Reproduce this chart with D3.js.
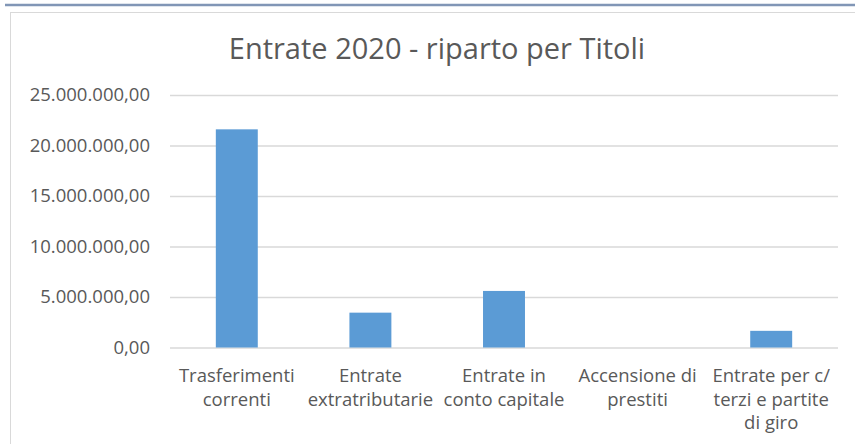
<!DOCTYPE html>
<meta charset="utf-8">
<script src="https://d3js.org/d3.v7.min.js"></script>
<style>
	body{
		margin:0;
		background:#fff;
		font-family:'Open Sans', sans-serif;
	}
</style>
<div id="chart"></div>
<script>
// data
var categories = [
	["Trasferimenti","correnti"],
	["Entrate","extratributarie"],
	["Entrate in","conto capitale"],
	["Accensione di","prestiti"],
	["Entrate per c/","terzi e partite","di giro"]
]
var values = [21600000, 3450000, 5600000, 0, 1650000]
var yTicks = [0, 5000000, 10000000, 15000000, 20000000, 25000000]
var titleText = "Entrate 2020 - riparto per Titoli"

var w = 855
var h = 444
var pLeft = 170
var pRight = 838
var pTop = 95
var pBottom = 347.5

var svg = d3.select("#chart").append("svg").attr("width",w).attr("height",h)

// blue rule at top of the page
svg.append("line")
	.attr("x1",5).attr("x2",855).attr("y1",5).attr("y2",5)
	.attr("stroke","#8196b6").attr("stroke-width",2.5)

// chart frame
svg.append("rect")
	.attr("x",10.5).attr("y",12.5).attr("width",w+20).attr("height",h+20)
	.attr("fill","#fff").attr("stroke","#d9d9d9")

svg.append("text").text(titleText)
	.attr("x",437).attr("y",59)
	.attr("text-anchor","middle")
	.style("font-size","29px")
	.attr("fill","#595959")

var xScale = d3.scaleBand().domain(d3.range(categories.length)).range([pLeft,pRight]).paddingInner(0.686).paddingOuter(0.343)
var yScale = d3.scaleLinear().domain([0,25000000]).range([pBottom,pTop])

var itFormat = d3.formatLocale({decimal:",", thousands:".", grouping:[3], currency:["€",""]}).format(",.2f")

var yAxis = d3.axisLeft(yScale).tickValues(yTicks).tickFormat(itFormat).tickSize(-(pRight-pLeft)).tickPadding(20)
var gy = svg.append("g").attr("transform","translate("+pLeft+",0)").call(yAxis)
gy.select(".domain").remove()
gy.selectAll(".tick line").attr("stroke","#d9d9d9").attr("stroke-width",1.5)
gy.selectAll(".tick text").attr("fill","#595959").style("font-size","18.5px").style("font-family","'Open Sans', sans-serif")

svg.selectAll(".bar")
	.data(values)
	.join("rect")
	.attr("class","bar")
	.attr("x",function(d,i){ return xScale(i) })
	.attr("width",xScale.bandwidth())
	.attr("y",function(d){ return yScale(d) })
	.attr("height",function(d){ return yScale(0)-yScale(d) })
	.attr("fill","#5b9bd5")

// category labels, one tspan per line
var labels = svg.selectAll(".cat")
	.data(categories)
	.join("text")
	.attr("class","cat")
	.attr("text-anchor","middle")
	.attr("fill","#595959")
	.style("font-size","18.5px")
	.attr("transform",function(d,i){ return "translate("+(xScale(i)+xScale.bandwidth()/2)+",382)" })

labels.selectAll("tspan")
	.data(function(d){ return d })
	.join("tspan")
	.attr("x",0)
	.attr("y",function(d,i){ return i*23.5 })
	.text(function(d){ return d })
</script>
